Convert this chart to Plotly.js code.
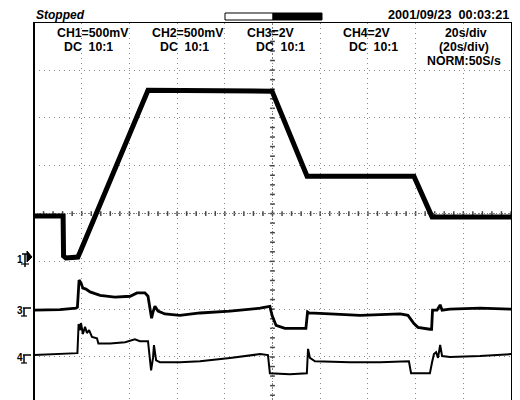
<!DOCTYPE html>
<html>
<head>
<meta charset="utf-8">
<script src="https://cdn.plot.ly/plotly-3.0.1.min.js"></script>
<style>html,body{margin:0;padding:0;background:#fff;}#chart{width:520px;height:400px;}</style>
</head>
<body>
<div id="chart"></div>
<script>
// Time in seconds (20 s/div), values in screen divisions
const time1 = [0, 12.2, 12.4, 13.4, 18.4, 19.3, 47.8, 99.8, 114.5, 159.3, 166.9, 200];
const ch1 = [-0.05, -0.05, -0.89, -0.93, -0.91, -0.81, 2.58, 2.56, 0.78, 0.78, -0.07, -0.07];

const time3 = [0, 10.9, 17.6, 18.2, 18.9, 19.7, 20.5, 21.8, 23.5, 27.7, 33.9, 40.3, 43.2, 46.5, 47.8, 48.6, 49.3, 49.9, 50.7, 52.0, 54.9, 61.2, 69.6, 82.2, 94.8, 98.9, 99.8, 101.5, 105.2, 111.5, 114.0, 114.7, 115.3, 124.1, 136.7, 153.5, 156.8, 159.3, 161.0, 166.0, 166.7, 167.1, 169.0, 170.3, 171.1, 174.4, 187.0, 200];
const ch3 = [-2.02, -2.01, -1.98, -1.96, -1.39, -1.45, -1.56, -1.58, -1.64, -1.71, -1.75, -1.73, -1.66, -1.66, -1.73, -2.02, -2.19, -2.06, -1.94, -2.04, -2.10, -2.13, -2.08, -2.04, -1.98, -1.94, -2.13, -2.34, -2.40, -2.40, -2.40, -2.06, -2.08, -2.10, -2.13, -2.10, -2.13, -2.30, -2.38, -2.42, -2.42, -2.02, -2.02, -1.91, -2.02, -2.00, -1.98, -2.00];

const time4 = [0, 10.9, 17.6, 18.2, 18.7, 19.3, 19.7, 20.5, 21.4, 22.2, 23.1, 24.3, 26.4, 27.0, 31.9, 38.2, 42.3, 44.4, 47.8, 48.2, 49.1, 49.9, 50.3, 51.2, 52.8, 61.2, 69.6, 82.2, 94.8, 98.1, 98.9, 107.3, 114.4, 114.9, 115.7, 117.8, 132.5, 145.1, 157.2, 158.1, 166.0, 166.9, 167.7, 168.6, 169.4, 170.3, 171.1, 174.4, 187.0, 200];
const ch4 = [-2.96, -2.94, -2.93, -2.92, -2.31, -2.44, -2.29, -2.52, -2.37, -2.50, -2.44, -2.58, -2.61, -2.72, -2.72, -2.69, -2.63, -2.67, -2.67, -2.86, -3.28, -3.02, -2.75, -3.07, -3.11, -3.11, -3.09, -3.02, -2.94, -2.96, -3.34, -3.36, -3.34, -2.83, -3.02, -3.09, -3.11, -3.11, -3.09, -3.34, -3.34, -3.11, -2.94, -2.90, -3.02, -2.75, -2.98, -3.00, -2.98, -2.94];

const chLabels = ["CH1=500mV", "CH2=500mV", "CH3=2V", "CH4=2V", "20s/div"];
const couplingLabels = ["DC  10:1", "DC  10:1", "DC  10:1", "DC  10:1", "(20s/div)"];
const sampleLabel = "NORM:50S/s";
const statusLabel = "Stopped";
const dateLabel = "2001/09/23  00:03:21";

// plot area pixel geometry
const L = 34, R = 511, T = 23, B = 400;
const px = x => (x - L) / (R - L);
const py = y => (B - y) / (B - T);

const traces = [
  {x: time1, y: ch1, mode: 'lines', line: {color: '#000', width: 5}, hoverinfo: 'skip'},
  {x: time3, y: ch3, mode: 'lines', line: {color: '#000', width: 2.8}, hoverinfo: 'skip'},
  {x: time4, y: ch4, mode: 'lines', line: {color: '#000', width: 2}, hoverinfo: 'skip'}
];

const shapes = [];
// center cross dotted lines
shapes.push({type: 'line', xref: 'x', yref: 'y', x0: 0, x1: 200, y0: 0, y1: 0, line: {color: '#777', width: 1, dash: '1px,2px'}, layer: 'below'});
shapes.push({type: 'line', xref: 'x', yref: 'y', x0: 100, x1: 100, y0: -3.9, y1: 3.985, line: {color: '#777', width: 1, dash: '1px,2px'}, layer: 'below'});
for (let i = 0; i <= 50; i++) {
  const t = i * 4;
  shapes.push({type: 'line', xref: 'x', yref: 'y', x0: t, x1: t, y0: -0.05, y1: 0.05, line: {color: '#444', width: 1.5}, layer: 'below'});
}
for (let i = -20; i <= 20; i++) {
  const v = i * 0.2;
  shapes.push({type: 'line', xref: 'x', yref: 'y', x0: 99, x1: 101, y0: v, y1: v, line: {color: '#444', width: 1.5}, layer: 'below'});
}
// left border thicker
shapes.push({type: 'line', xref: 'paper', yref: 'paper', x0: 0, x1: 0, y0: 0, y1: 1, line: {color: '#000', width: 2}});
// status bar box
shapes.push({type: 'rect', xref: 'paper', yref: 'paper', x0: px(225), x1: px(273), y0: py(20), y1: py(13), line: {color: '#000', width: 1}, fillcolor: '#fff'});
shapes.push({type: 'rect', xref: 'paper', yref: 'paper', x0: px(273), x1: px(322), y0: py(20), y1: py(13), line: {color: '#000', width: 1}, fillcolor: '#000'});
// channel markers (ground symbols)
function marker(yc) {
  shapes.push({type: 'line', xref: 'paper', yref: 'paper', x0: px(23), x1: px(31), y0: py(yc - 2), y1: py(yc - 2), line: {color: '#000', width: 1.5}});
  shapes.push({type: 'line', xref: 'paper', yref: 'paper', x0: px(24), x1: px(24), y0: py(yc - 2), y1: py(yc + 6), line: {color: '#000', width: 1.5}});
  shapes.push({type: 'line', xref: 'paper', yref: 'paper', x0: px(21), x1: px(27), y0: py(yc + 6), y1: py(yc + 6), line: {color: '#000', width: 1.2}});
}
marker(310);
marker(357);
// trigger marker for CH1
shapes.push({type: 'line', xref: 'paper', yref: 'paper', x0: px(22), x1: px(28), y0: py(254), y1: py(254), line: {color: '#000', width: 1.5}});
shapes.push({type: 'line', xref: 'paper', yref: 'paper', x0: px(25), x1: px(25), y0: py(254), y1: py(267), line: {color: '#000', width: 1.5}});
shapes.push({type: 'line', xref: 'paper', yref: 'paper', x0: px(21), x1: px(29), y0: py(264), y1: py(264), line: {color: '#000', width: 1.2}});
shapes.push({type: 'path', xref: 'paper', yref: 'paper', path: 'M ' + px(27) + ' ' + py(251) + ' L ' + px(32) + ' ' + py(257) + ' L ' + px(27) + ' ' + py(262) + ' Z', fillcolor: '#000', line: {color: '#000', width: 1}});

const font = {family: 'Liberation Sans, Arial, sans-serif', size: 12.3, color: '#000', weight: 'bold'};
const annotations = [];
const row1x = [93, 188, 271, 367, 466];
const row2x = [88, 184, 280, 373, 464];
chLabels.forEach((t, i) => annotations.push({text: t, xref: 'paper', yref: 'paper', x: px(row1x[i]), y: py(33), xanchor: 'center', yanchor: 'middle', showarrow: false, font: font}));
couplingLabels.forEach((t, i) => annotations.push({text: t, xref: 'paper', yref: 'paper', x: px(row2x[i]), y: py(47), xanchor: 'center', yanchor: 'middle', showarrow: false, font: font}));
annotations.push({text: sampleLabel, xref: 'paper', yref: 'paper', x: px(464), y: py(61), xanchor: 'center', yanchor: 'middle', showarrow: false, font: font});
annotations.push({text: '<i>' + statusLabel + '</i>', xref: 'paper', yref: 'paper', x: px(34), y: py(15), xanchor: 'left', yanchor: 'middle', showarrow: false, font: {family: 'Liberation Sans, Arial, sans-serif', size: 12, color: '#000', weight: 'bold'}});
annotations.push({text: dateLabel, xref: 'paper', yref: 'paper', x: px(511), y: py(15), xanchor: 'right', yanchor: 'middle', showarrow: false, font: {family: 'Liberation Sans, Arial, sans-serif', size: 12.7, color: '#000', weight: 'bold'}});
// channel numbers
[['1', 259], ['3', 310], ['4', 357]].forEach(([t, y]) => annotations.push({text: t, xref: 'paper', yref: 'paper', x: px(20), y: py(y), xanchor: 'center', yanchor: 'middle', showarrow: false, font: {family: 'Liberation Sans, Arial, sans-serif', size: 10, color: '#000', weight: 'bold'}}));

const layout = {
  width: 520, height: 400,
  margin: {l: L, r: 520 - R, t: T, b: 0, pad: 0},
  paper_bgcolor: '#fff', plot_bgcolor: '#fff',
  showlegend: false,
  xaxis: {range: [0, 200], dtick: 20, tick0: 0, showgrid: true, gridcolor: '#888', griddash: '1px,4px', gridwidth: 1,
          showticklabels: false, ticks: '', zeroline: false, showline: true, mirror: true, linecolor: '#000', linewidth: 1, fixedrange: true},
  yaxis: {range: [-3.90, 3.985], dtick: 1, tick0: 0, showgrid: true, gridcolor: '#888', griddash: '1px,4px', gridwidth: 1,
          showticklabels: false, ticks: '', zeroline: false, showline: true, mirror: true, linecolor: '#000', linewidth: 1, fixedrange: true},
  shapes: shapes,
  annotations: annotations
};

Plotly.newPlot('chart', traces, layout, {displayModeBar: false, staticPlot: true});
</script>
</body>
</html>
